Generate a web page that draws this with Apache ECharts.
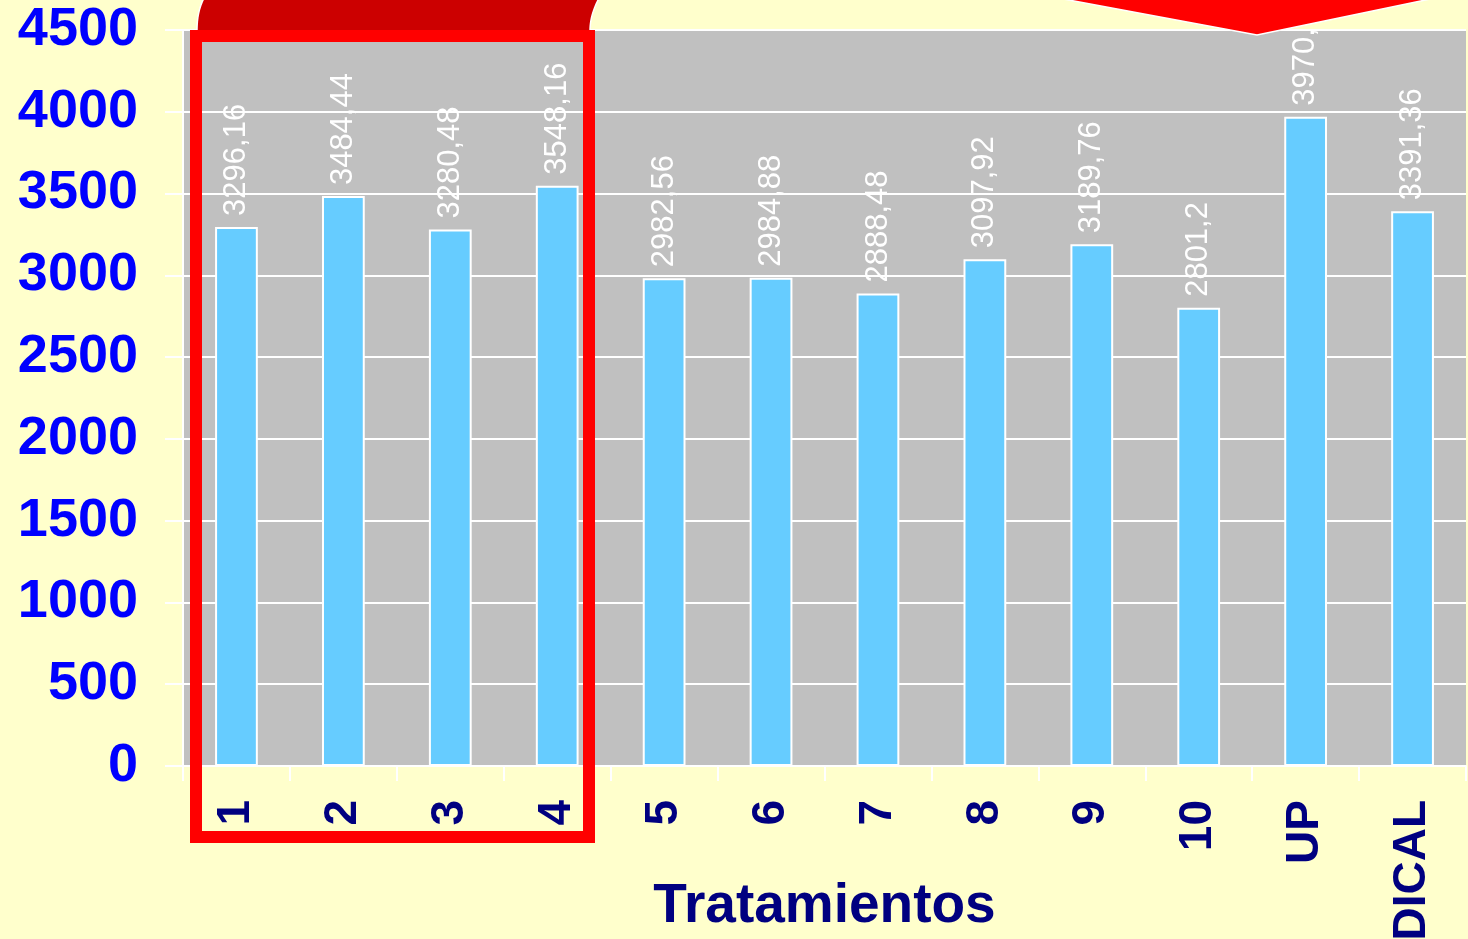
<!DOCTYPE html>
<html>
<head>
<meta charset="utf-8">
<title>Tratamientos</title>
<script src="https://cdn.jsdelivr.net/npm/echarts@6/dist/echarts.min.js"></script>
<style>
  html, body { margin: 0; padding: 0; background: #FFFFCC; }
  #chart { width: 1468px; height: 939px; }
</style>
</head>
<body>
<div id="chart"></div>
<script>
// Treatments on the category axis
const categories = ['1', '2', '3', '4', '5', '6', '7', '8', '9', '10', 'UP', 'DICAL'];
// Bar values
const values = [3296.16, 3484.44, 3280.48, 3548.16, 2982.56, 2984.88, 2888.48, 3097.92, 3189.76, 2801.2, 3970, 3391.36];
// Value labels as printed above each bar (decimal comma)
const valueLabels = ['3296,16', '3484,44', '3280,48', '3548,16', '2982,56', '2984,88', '2888,48', '3097,92', '3189,76', '2801,2', '3970,', '3391,36'];
// Value axis range
const yMin = 0;
const yMax = 4500;
const yStep = 500;
const xAxisTitle = 'Tratamientos';

const FONT = '"Liberation Sans", Arial, sans-serif';

// Sample a cubic Bezier into polygon points
function bezierPoints(p0, p1, p2, p3, n) {
  const pts = [];
  for (let i = 0; i <= n; i++) {
    const t = i / n, u = 1 - t;
    pts.push([
      u * u * u * p0[0] + 3 * u * u * t * p1[0] + 3 * u * t * t * p2[0] + t * t * t * p3[0],
      u * u * u * p0[1] + 3 * u * u * t * p1[1] + 3 * u * t * t * p2[1] + t * t * t * p3[1]
    ]);
  }
  return pts;
}

// Dark red callout outline: curved left edge, flat top, curved right edge
const calloutPts = []
  .concat(bezierPoints([197, 31], [197, 18], [199, 8], [204, -2], 16))
  .concat(bezierPoints([599, -2], [594, 8], [590, 18], [590, 31], 16));

const chart = echarts.init(document.getElementById('chart'), null, { renderer: 'canvas' });

chart.setOption({
  backgroundColor: '#FFFFCC',
  animation: false,
  grid: {
    left: 183, right: 2, top: 30, bottom: 173,
    containLabel: false,
    outerBoundsMode: 'none',
    show: true, backgroundColor: '#C0C0C0', borderWidth: 0
  },
  xAxis: {
    type: 'category',
    data: categories,
    axisLine: { show: true, lineStyle: { color: '#FFFFFF', width: 2 } },
    axisTick: { show: true, length: 15, lineStyle: { color: '#FFFFFF', width: 2 } },
    axisLabel: {
      rotate: 90, margin: 34, interval: 0,
      color: '#000080', fontFamily: FONT, fontWeight: 'bold', fontSize: 46
    },
    name: xAxisTitle,
    nameLocation: 'middle',
    nameGap: 113,
    nameMoveOverlap: false,
    nameTextStyle: { color: '#000080', fontFamily: FONT, fontWeight: 'bold', fontSize: 55 }
  },
  yAxis: {
    type: 'value',
    min: yMin, max: yMax, interval: yStep,
    axisLine: { show: true, lineStyle: { color: '#FFFFFF', width: 2 } },
    axisTick: { show: true, length: 18, lineStyle: { color: '#FFFFFF', width: 2 } },
    splitLine: { show: true, lineStyle: { color: '#FFFFFF', width: 2 } },
    axisLabel: {
      margin: 45,
      formatter: v => String(v),
      color: '#0000FF', fontFamily: FONT, fontWeight: 'bold', fontSize: 54
    }
  },
  series: [{
    type: 'bar',
    data: values,
    barWidth: '40%',
    itemStyle: { color: '#66CCFF', borderColor: '#FFFFFF', borderWidth: 2 },
    label: {
      show: true,
      position: 'top',
      rotate: 90,
      align: 'left',
      verticalAlign: 'middle',
      distance: 11,
      color: '#FFFFFF',
      fontFamily: FONT,
      fontSize: 31,
      formatter: p => valueLabels[p.dataIndex]
    }
  }],
  graphic: [
    {
      type: 'polygon', z: 100,
      shape: { points: calloutPts },
      style: { fill: '#CC0000', stroke: '#FFFFFF', lineWidth: 1.5 }
    },
    {
      // red frame around treatments 1 to 4
      type: 'rect', z: 101,
      shape: { x: 196, y: 36, width: 393, height: 801 },
      style: { fill: 'none', stroke: '#FF0000', lineWidth: 12 }
    },
    {
      // red arrow tip pointing at UP
      type: 'polygon', z: 102,
      shape: { points: [[1058, -2], [1257, 35], [1435, -2]] },
      style: { fill: '#FF0000', stroke: '#FFFFFF', lineWidth: 1.5 }
    }
  ]
});
</script>
</body>
</html>
